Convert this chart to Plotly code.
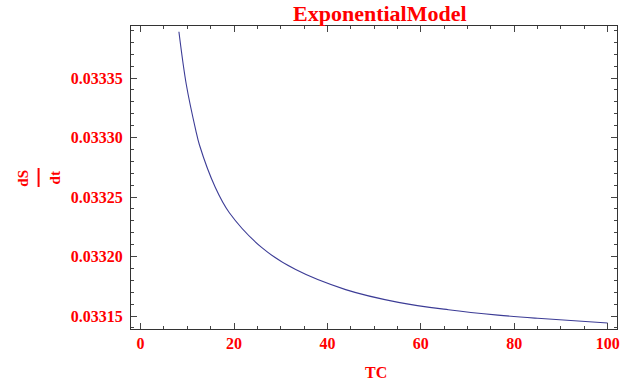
import plotly.graph_objects as go

# Data
tc = [8.2, 9.8, 11.8, 12.6, 16.0, 19.0, 26.1, 33.2, 43.9, 55.2, 65.9, 76.5, 85.0, 100.0]
ds_dt = [0.0333889, 0.0333441, 0.0333063, 0.0332937, 0.0332580, 0.0332368, 0.0332070,
         0.0331890, 0.0331722, 0.0331615, 0.0331553, 0.0331508, 0.0331481, 0.0331441]

x_tick_vals = [0, 20, 40, 60, 80, 100]
y_tick_vals = [0.03315, 0.03320, 0.03325, 0.03330, 0.03335]

W, H = 632, 386
L, R, T, B = 131, 12, 26, 57
pw, ph = W - L - R, H - T - B

def px_x(p):
    return (p - L) / pw

def px_y(p):
    return (H - B - p) / ph

red = "#ff0000"
font_family = "Liberation Serif"

fig = go.Figure()
fig.add_trace(go.Scatter(x=tc, y=ds_dt, mode="lines",
                         line=dict(color="#3c3c96", width=1.1, shape="spline", smoothing=1.0),
                         hoverinfo="skip", showlegend=False))

axis_common = dict(showgrid=False, zeroline=False, showline=True, linecolor="#333333",
                   linewidth=1, mirror="ticks", ticks="inside", ticklen=6, tickwidth=1,
                   tickcolor="#444444",
                   tickfont=dict(family=font_family, size=16, color=red, weight="bold"))

fig.update_xaxes(range=[-2.06, 102.0], tickvals=x_tick_vals, ticklabelstandoff=0,
                 minor=dict(dtick=5, ticks="inside", ticklen=3, tickcolor="#444444"),
                 **axis_common)
fig.update_yaxes(range=[0.0331391, 0.0333937], tickvals=y_tick_vals, tickformat=".5f",
                 ticklabelstandoff=4,
                 minor=dict(dtick=0.00001, tick0=0.03315, ticks="inside", ticklen=3, tickcolor="#444444"),
                 **axis_common)

def label(text, x, y, size, angle=0):
    return dict(text=text, x=px_x(x), y=px_y(y), xref="paper", yref="paper",
                xanchor="center", yanchor="middle", textangle=angle,
                showarrow=False, font=dict(family=font_family, size=size, color=red))

annotations = [
    label("<b>ExponentialModel</b>", 382, 14, 22),
    label("<b>TC</b>", 378, 372, 16),
    label("<b>dS</b>", 22, 178, 15, -90),
    label("<b>dt</b>", 55, 178, 15, -90),
]

fig.add_shape(type="line", xref="paper", yref="paper",
              x0=px_x(38), x1=px_x(38), y0=px_y(168), y1=px_y(187),
              line=dict(color=red, width=2))

fig.update_layout(width=W, height=H, margin=dict(l=L, r=R, t=T, b=B),
                  paper_bgcolor="white", plot_bgcolor="white", annotations=annotations,
                  hovermode=False)

fig.write_html("out.html", config={"displayModeBar": False, "staticPlot": True},
               post_script="document.body.style.margin='0px';")
